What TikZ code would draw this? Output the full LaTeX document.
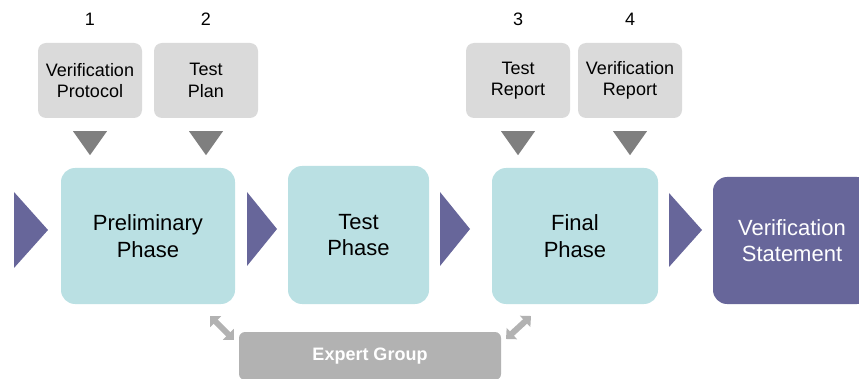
\documentclass[tikz,border=0pt]{standalone}
\usepackage{fontspec}
\setmainfont{Liberation Sans}
\usetikzlibrary{arrows.meta,calc}
\definecolor{phasecol}{HTML}{BAE0E3}
\definecolor{purplecol}{HTML}{67669A}
\definecolor{doccol}{HTML}{DADADA}
\definecolor{triangcol}{HTML}{7F7F7F}
\definecolor{groupcol}{HTML}{B2B2B2}
\tikzset{
  phase/.style={fill=phasecol, rounded corners=14pt, align=center, font=\fontsize{22}{26.5}\selectfont, inner sep=0pt},
  doc/.style={fill=doccol, rounded corners=8pt, minimum width=104pt, minimum height=75pt, align=center, font=\fontsize{18}{21.5}\selectfont, inner sep=0pt},
  num/.style={font=\fontsize{18}{20}\selectfont},
  twoway/.style={groupcol, line width=6pt, {Triangle[length=8pt, width=15pt]}-{Triangle[length=8pt, width=15pt]}},
}
\begin{document}
\begin{tikzpicture}[x=1pt, y=-1pt]
		%%%%% START %%%%%
		\useasboundingbox (0,0) rectangle (859,379);
		
		% phases
		\node[phase, minimum width=174pt, minimum height=136pt] (prelim) at (148, 236) {Preliminary\\Phase};
		\node[phase, minimum width=141pt, minimum height=138pt] (testph) at (358.5, 235) {Test\\Phase};
		\node[phase, minimum width=166pt, minimum height=136pt] (final) at (575, 236) {Final\\Phase};
		\node[phase, fill=purplecol, text=white, minimum width=158pt, minimum height=127pt] (stmt) at (792, 240.5) {Verification\\Statement};
		
		% purple arrows
		\fill[purplecol] (14, 192) -- (48, 230) -- (14, 268) -- cycle;
		\fill[purplecol] (247, 192) -- (277, 229) -- (247, 266) -- cycle;
		\fill[purplecol] (440, 192) -- (470, 229) -- (440, 266) -- cycle;
		\fill[purplecol] (669, 193) -- (702, 230) -- (669, 267) -- cycle;
		
		% documents
		\node[doc] (protocol) at (90, 80.5) {Verification\\Protocol};
		\node[doc] (plan) at (206, 80.5) {Test\\Plan};
		\node[doc] (report) at (518, 80.5) {Test\\Report};
		\node[doc] (vreport) at (630, 80.5) {Verification\\Report};
		
		\node[num] (n1) at (90, 19) {1};
		\node[num] (n2) at (206, 19) {2};
		\node[num] (n3) at (518, 19) {3};
		\node[num] (n4) at (630, 19) {4};
		
		% down triangles
		\foreach \d in {protocol, plan, report, vreport}
			\fill[triangcol] ($(\d.south)+(-17, 13)$) -- ($(\d.south)+(17, 13)$) -- ($(\d.south)+(0, 37)$) -- cycle;
		
		% expert group
		\node[fill=groupcol, rounded corners=6pt, minimum width=262pt, minimum height=48pt, text=white, font=\bfseries\fontsize{18}{20}\selectfont] (expert) at (370, 356) {Expert Group};
		\coordinate (la) at (210, 316);
		\coordinate (lb) at (234, 340);
		\coordinate (ra) at (506, 339);
		\coordinate (rb) at (531, 316);
		\draw[twoway] (la) -- (lb);
		\draw[twoway] (ra) -- (rb);
		
		%%%%% END %%%%%
	\end{tikzpicture}
\end{document}
